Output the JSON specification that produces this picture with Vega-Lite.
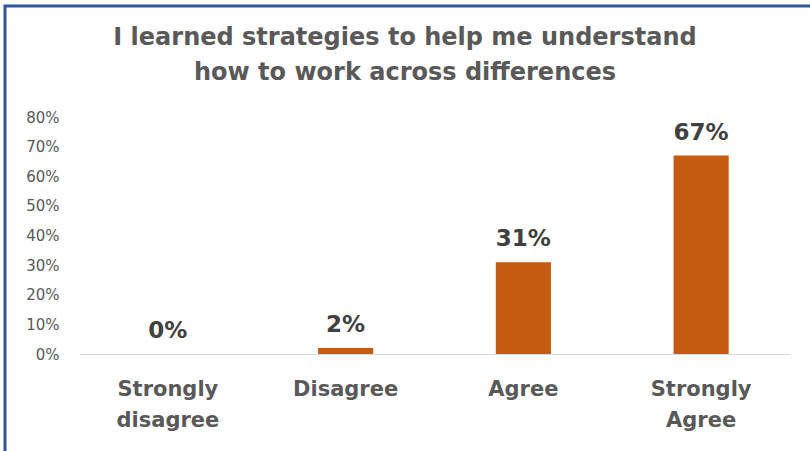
{
  "$schema": "https://vega.github.io/schema/vega-lite/v6.json",
  "width": 810,
  "height": 451,
  "autosize": {"type": "none"},
  "padding": {"left": 5, "top": 6, "right": 0, "bottom": 0},
  "background": "white",
  "config": {"view": {"stroke": "#2F5597", "strokeWidth": 3}},
  "title": {
    "text": ["I learned strategies to help me understand", "how to work across differences"],
    "font": "DejaVu Sans",
    "fontSize": 24,
    "fontWeight": "bold",
    "color": "#595959",
    "lineHeight": 35,
    "anchor": "middle",
    "frame": "group",
    "baseline": "alphabetic",
    "offset": -98,
    "dx": -5
  },
  "data": {
    "values": [
      {"response": "Strongly disagree", "pct": 0.0},
      {"response": "Disagree", "pct": 0.02},
      {"response": "Agree", "pct": 0.31},
      {"response": "Strongly Agree", "pct": 0.67}
    ]
  },
  "encoding": {
    "x": {
      "field": "response",
      "type": "nominal",
      "sort": null,
      "scale": {"range": [74, 785], "paddingInner": 0.69, "paddingOuter": 0.345},
      "axis": {
        "title": null,
        "orient": "bottom",
        "offset": -103,
        "domainColor": "#D9D9D9",
        "domainWidth": 1,
        "ticks": false,
        "labelAngle": 0,
        "labelFont": "DejaVu Sans",
        "labelFontSize": 21,
        "labelFontWeight": "bold",
        "labelColor": "#595959",
        "labelPadding": 24,
        "labelLineHeight": 31,
        "labelExpr": "datum.value == 'Strongly disagree' ? ['Strongly', 'disagree'] : datum.value == 'Strongly Agree' ? ['Strongly', 'Agree'] : datum.value"
      }
    },
    "y": {
      "field": "pct",
      "type": "quantitative",
      "scale": {"domain": [0, 0.8], "range": [348, 111], "nice": false},
      "axis": {
        "title": null,
        "offset": -54,
        "domain": false,
        "ticks": false,
        "tickSize": 0,
        "grid": false,
        "labelPadding": 0,
        "values": [0, 0.1, 0.2, 0.3, 0.4, 0.5, 0.6, 0.7, 0.8],
        "format": ".0%",
        "labelFont": "DejaVu Sans",
        "labelFontSize": 15,
        "labelColor": "#595959"
      }
    }
  },
  "layer": [
    {"mark": {"type": "bar", "color": "#C55A11"}},
    {
      "mark": {"type": "text", "baseline": "alphabetic", "dy": -16, "font": "DejaVu Sans", "fontSize": 23, "fontWeight": "bold", "color": "#404040"},
      "encoding": {"text": {"field": "pct", "type": "quantitative", "format": ".0%"}}
    }
  ]
}
